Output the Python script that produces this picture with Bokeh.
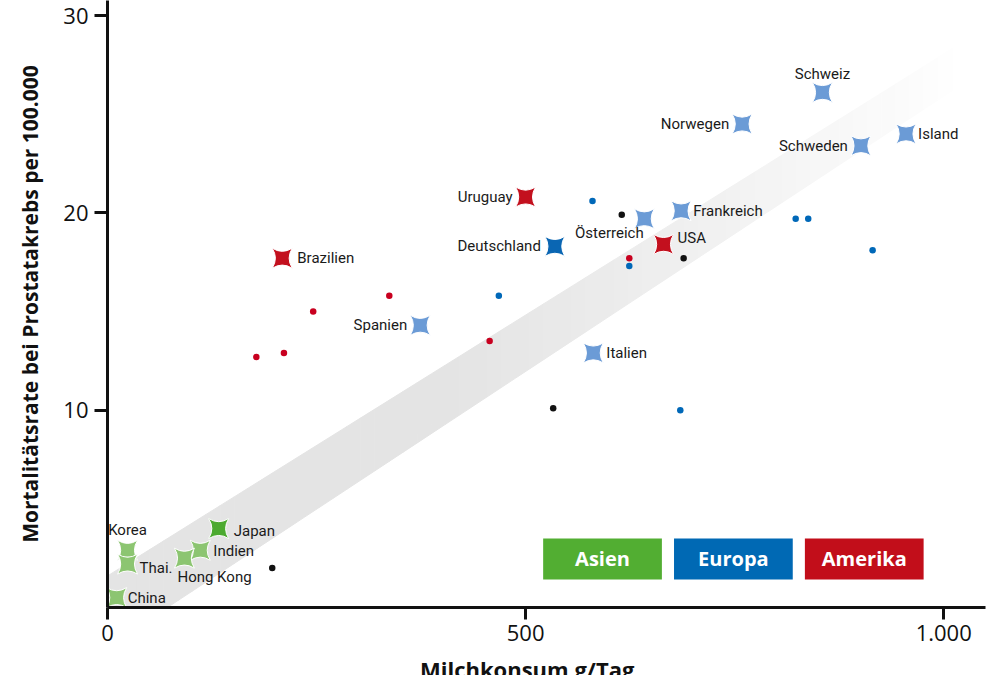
from bokeh.plotting import figure
from bokeh.models import Range1d, FixedTicker, ColumnDataSource, Div
from bokeh.layouts import column
from bokeh.core.properties import value
from bokeh.embed import file_html
from bokeh.resources import INLINE

# ---------------- data ----------------
countries = ["Schweiz", "Norwegen", "Island", "Schweden", "Uruguay", "Österreich",
             "Frankreich", "Deutschland", "USA", "Brazilien", "Spanien", "Italien",
             "Japan", "Indien", "Hong Kong", "Korea", "Thai.", "China"]
milk = [855, 759, 955, 901, 500, 642, 686, 535, 665, 209, 374, 581,
        133, 111, 92, 24, 24, 11]
mortality = [26.1, 24.5, 24.0, 23.4, 20.8, 19.7, 20.1, 18.3, 18.4, 17.7, 14.3, 12.9,
             4.0, 2.9, 2.5, 2.9, 2.2, 0.5]
region = ["Europa", "Europa", "Europa", "Europa", "Amerika", "Europa",
          "Europa", "Europa", "Amerika", "Amerika", "Europa", "Europa",
          "Asien", "Asien", "Asien", "Asien", "Asien", "Asien"]
highlighted = ["Japan", "Deutschland"]

dot_milk = [197, 533, 615, 689,
            178, 211, 246, 337, 457, 624,
            580, 468, 624, 685, 823, 838, 915]
dot_mortality = [2.0, 10.1, 19.9, 17.7,
                 12.7, 12.9, 15.0, 15.8, 13.5, 17.7,
                 20.6, 15.8, 17.3, 10.0, 19.7, 19.7, 18.1]
dot_group = ["andere"] * 4 + ["Amerika"] * 6 + ["Europa"] * 7

# trend band (milk, lower / upper mortality)
band_milk = [0, 1010]
band_lower = [-2.0, 26.2]
band_upper = [1.6, 28.3]

x_ticks = [0, 500, 1000]
x_tick_labels = ["0", "500", "1.000"]
y_ticks = [10, 20, 30]
legend_labels = ["Asien", "Europa", "Amerika"]

x_title = "Milchkonsum g/Tag"
y_title = "Mortalitätsrate bei Prostatakrebs per 100.000"

# ---------------- styles ----------------
light = {"Asien": "#8cc571", "Europa": "#6b9bd6", "Amerika": "#c3101e"}
dark = {"Asien": "#4caa30", "Europa": "#0a66b3", "Amerika": "#c3101e"}
dot_colors = {"andere": "#111111", "Amerika": "#c8001f", "Europa": "#0068b8"}
legend_colors = {"Asien": "#52ae32", "Europa": "#0069b4", "Amerika": "#c20e1a"}

# label offsets in px (dx, dy: positive = down) and alignment per country
label_style = {
    "Schweiz": (0, -18, "center"), "Norwegen": (-13, 0, "right"),
    "Island": (12, 0, "left"), "Schweden": (-13, 0, "right"),
    "Uruguay": (-13, 0, "right"), "Österreich": (-35, 14, "center"),
    "Frankreich": (12, 0, "left"), "Deutschland": (-14, 0, "right"),
    "USA": (14, -6, "left"), "Brazilien": (15, 0, "left"),
    "Spanien": (-13, 0, "right"), "Italien": (13, 0, "left"),
    "Japan": (15, 2, "left"), "Indien": (13, 1, "left"),
    "Hong Kong": (-7, 19, "left"), "Korea": (0, -20, "center"),
    "Thai.": (12, 4, "left"), "China": (11, 0, "left"),
}

label_font = "Roboto"
main_font = "Open Sans"

p = figure(width=998, height=658, x_range=Range1d(0, 1050), y_range=Range1d(0, 30.76),
           output_backend="svg", toolbar_location=None,
           min_border_left=107, min_border_right=13, min_border_top=0, min_border_bottom=51)
p.outline_line_color = None
p.xgrid.visible = False
p.ygrid.visible = False
p.background_fill_color = "white"
p.border_fill_color = "white"

# band with fade toward the upper end
N = 60
xs_b, ys_b, cols_b = [], [], []
for i in range(N):
    t0, t1 = i / N, (i + 1) / N
    x0 = band_milk[0] + (band_milk[1] - band_milk[0]) * t0
    x1 = band_milk[0] + (band_milk[1] - band_milk[0]) * t1
    lo0 = band_lower[0] + (band_lower[1] - band_lower[0]) * t0
    lo1 = band_lower[0] + (band_lower[1] - band_lower[0]) * t1
    hi0 = band_upper[0] + (band_upper[1] - band_upper[0]) * t0
    hi1 = band_upper[0] + (band_upper[1] - band_upper[0]) * t1
    xs_b.append([x0, x1, x1, x0])
    ys_b.append([lo0, lo1, hi1, hi0])
    tm = (t0 + t1) / 2
    f = max(0.0, (tm - 0.4) / 0.6)
    g = int(round(228 + 26 * f ** 1.1))
    g = min(g, 254)
    cols_b.append("#%02x%02x%02x" % (g, g, g))
p.patches(xs_b, ys_b, fill_color=cols_b, line_color=cols_b, line_width=1)

# small dots
p.scatter(dot_milk, dot_mortality, size=6.5,
          fill_color=[dot_colors[g] for g in dot_group], line_color=None)

# country markers
cols = [dark[r] if c in highlighted else light[r] for c, r in zip(countries, region)]
p.scatter(milk, mortality, marker="square_pin", size=20, fill_color=cols,
          line_color="white", line_width=1)

src = ColumnDataSource(dict(
    x=milk, y=mortality, text=countries,
    dx=[label_style[c][0] for c in countries],
    dy=[label_style[c][1] for c in countries],
    align=[label_style[c][2] for c in countries],
))
p.text(x="x", y="y", text="text", x_offset="dx", y_offset="dy", text_align="align",
       text_baseline="middle", text_font=value(label_font), text_font_size="15px",
       text_color="#1a1a1a", source=src)

# legend boxes
box_left0, box_w, box_gap = 521, 142, 14.5
box_bottom, box_top = 1.42, 3.5
lefts = [box_left0 + i * (box_w + box_gap) for i in range(len(legend_labels))]
p.quad(left=lefts, right=[l + box_w for l in lefts], bottom=box_bottom, top=box_top,
       fill_color=[legend_colors[l] for l in legend_labels], line_color=None)
p.text(x=[l + box_w / 2 for l in lefts], y=(box_bottom + box_top) / 2, text=legend_labels,
       text_align="center", text_baseline="middle", text_font=value(main_font),
       text_font_style="bold", text_font_size="20px", text_color="white")

# axes
for ax in (p.xaxis, p.yaxis):
    ax.axis_line_width = 3
    ax.axis_line_color = "#111111"
    ax.major_tick_line_width = 3
    ax.major_tick_line_color = "#111111"
    ax.major_tick_in = 0
    ax.minor_tick_line_color = None
    ax.major_label_text_font = main_font
    ax.major_label_text_font_size = "22px"
    ax.major_label_text_color = "#111111"

p.xaxis.ticker = FixedTicker(ticks=x_ticks)
p.xaxis.major_label_overrides = dict(zip(x_ticks, x_tick_labels))
p.xaxis.major_tick_out = 12
p.xaxis.major_label_standoff = 5

p.yaxis.ticker = FixedTicker(ticks=y_ticks)
p.yaxis.major_tick_out = 13
p.yaxis.major_label_standoff = 6
p.yaxis.axis_label = y_title
p.yaxis.axis_label_text_font = main_font
p.yaxis.axis_label_text_font_style = "bold"
p.yaxis.axis_label_text_font_size = "21px"
p.yaxis.axis_label_text_color = "#111111"
p.yaxis.axis_label_standoff = 16

# x-axis title (cut off at the bottom edge, as in the original)
title_div = Div(text=x_title, width=998, height=17, margin=0,
                styles={"font-family": "Open Sans", "font-weight": "bold",
                        "font-size": "22px", "line-height": "22px", "color": "#111111",
                        "padding-left": "420px", "overflow": "hidden",
                        "white-space": "nowrap", "box-sizing": "border-box"})

layout = column(p, title_div, spacing=0)
open("out.html", "w").write(file_html(layout, INLINE))
